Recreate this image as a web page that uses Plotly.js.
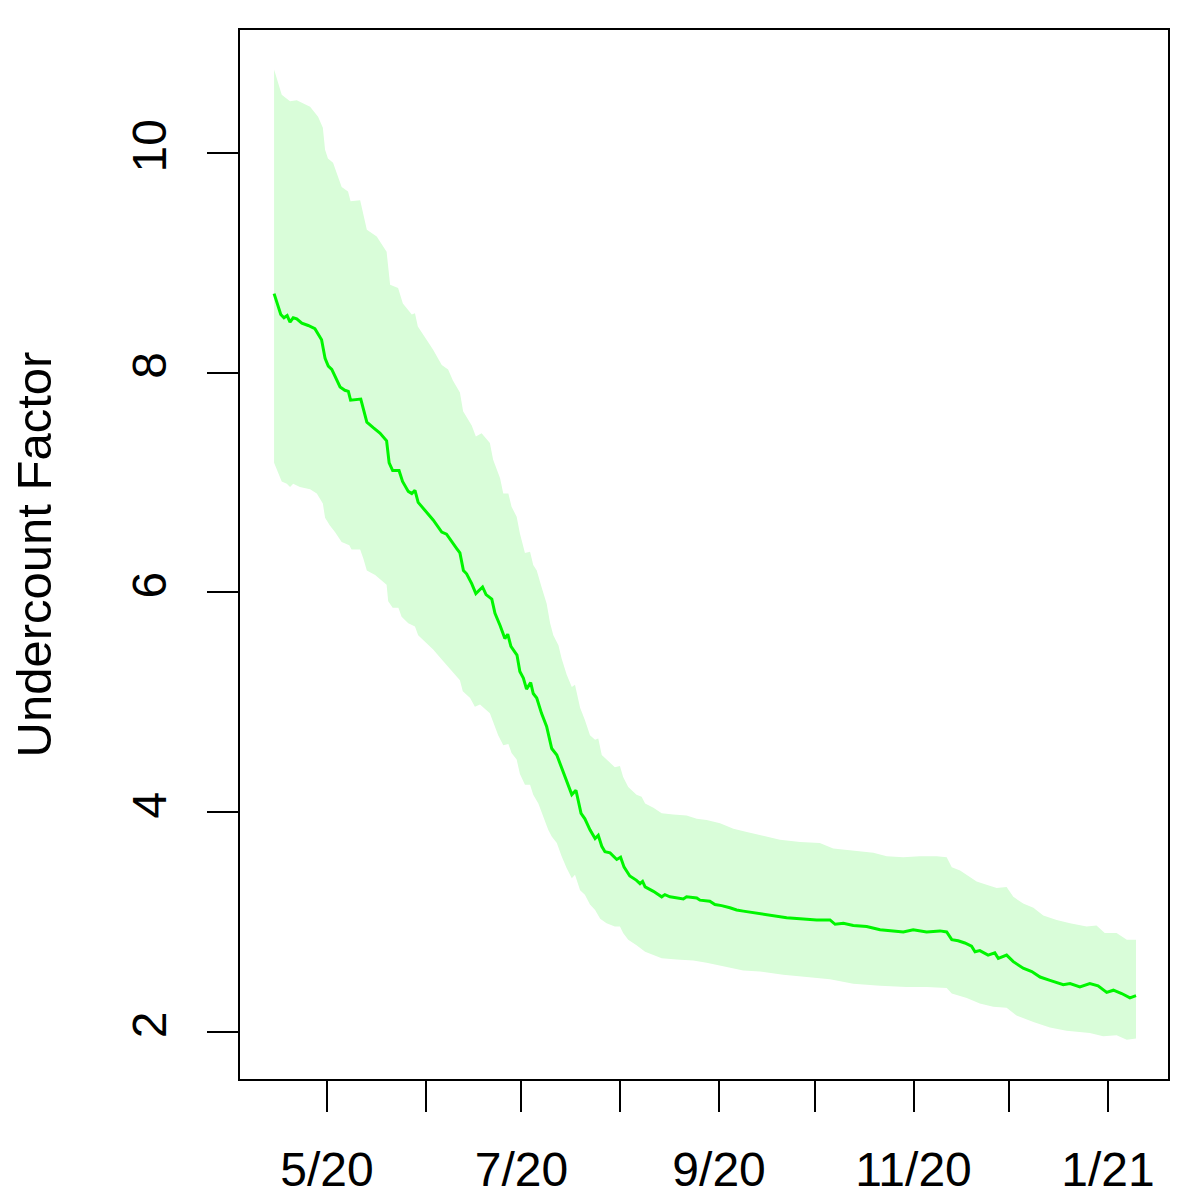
<!DOCTYPE html>
<html>
<head>
<meta charset="utf-8">
<script src="https://cdn.plot.ly/plotly-3.0.1.min.js"></script>
<style>
  html, body { margin: 0; padding: 0; background: #ffffff; }
  #chart { width: 1200px; height: 1200px; }
</style>
</head>
<body>
<div id="chart"></div>
<script>
// days since 2020-04-14
var meanDay = [0.4, 2.5, 3.5, 4.5, 5.4, 6.4, 7.5, 9.1, 11.1, 13.2, 15.3, 16.4, 17.4, 18.5, 21.1, 22.6, 23.7, 24.4,
  27.6, 28.6, 29.5, 31.5, 33.6, 35.7, 36.5, 37.6, 39.6, 40.7, 42.5, 43.6, 44.6, 45.6, 50.3, 53.0, 54.5, 57.7,
  58.7, 59.8, 60.8, 62.4, 63.7, 65.8, 66.9, 68.7, 69.7, 71.3, 72.8, 73.7, 74.7, 76.6, 77.5, 78.6, 79.6, 80.9,
  81.7, 82.8, 84.3, 85.9, 87.5, 89.1, 90.6, 92.2, 93.8, 95.1, 96.7, 97.9, 99.5, 101.1, 102.1, 103.2, 104.2,
  105.8, 107.9, 109.1, 110.2, 112.0, 114.1, 115.2, 116.0, 116.8, 119.4, 122.0, 123.0, 124.6, 128.8, 129.8,
  133.0, 134.0, 137.1, 138.7, 140.8, 143.4, 145.5, 147.6, 149.7, 152.8, 157.0, 161.2, 165.4, 170.6, 174.8,
  176.4, 179.0, 182.1, 186.3, 190.5, 194.6, 197.8, 200.9, 205.1, 209.3, 211.4, 213.0, 215.0, 217.1, 219.2,
  220.3, 221.8, 224.4, 226.5, 227.6, 230.2, 232.3, 235.4, 238.1, 240.7, 243.8, 248.0, 250.1, 253.2, 256.3,
  258.9, 261.6, 263.7, 266.3, 268.9, 270.8];
var meanVal = [8.72, 8.53, 8.50, 8.52, 8.46, 8.50, 8.49, 8.45, 8.43, 8.40, 8.30, 8.13, 8.06, 8.03, 7.87, 7.84, 7.83, 7.75,
  7.76, 7.66, 7.55, 7.50, 7.45, 7.38, 7.18, 7.11, 7.11, 7.01, 6.92, 6.90, 6.93, 6.82, 6.66, 6.55, 6.53, 6.40,
  6.36, 6.20, 6.17, 6.08, 5.99, 6.05, 5.98, 5.94, 5.81, 5.70, 5.58, 5.62, 5.51, 5.43, 5.28, 5.22, 5.12, 5.18,
  5.08, 5.04, 4.90, 4.78, 4.58, 4.52, 4.40, 4.28, 4.16, 4.20, 3.99, 3.94, 3.84, 3.76, 3.79, 3.69, 3.64,
  3.63, 3.57, 3.59, 3.50, 3.42, 3.38, 3.35, 3.37, 3.32, 3.28, 3.23, 3.25, 3.23, 3.21, 3.23,
  3.22, 3.20, 3.19, 3.16, 3.15, 3.13, 3.11, 3.10, 3.09, 3.08, 3.06, 3.04, 3.03, 3.02, 3.02,
  2.98, 2.99, 2.97, 2.96, 2.93, 2.92, 2.91, 2.93, 2.91, 2.92, 2.91, 2.84, 2.83, 2.81, 2.78,
  2.73, 2.74, 2.70, 2.72, 2.67, 2.70, 2.64, 2.58, 2.55, 2.50, 2.47, 2.43, 2.44, 2.41, 2.44,
  2.42, 2.36, 2.38, 2.35, 2.31, 2.33];

var upperDay = [0.4, 2.8, 5.4, 7.5, 11.7, 14.2, 15.7, 16.4, 17.3, 18.9, 21.6, 23.6, 24.4, 27.4, 29.5, 32.6, 35.7,
  36.8, 39.3, 40.8, 43.6, 44.6, 45.5, 50.3, 53.0, 55.0, 56.5, 58.7, 59.7, 62.4, 63.7, 65.5, 68.1, 69.1, 71.3,
  72.3, 73.9, 74.9, 76.5, 77.5, 79.1, 80.7, 81.7, 82.8, 84.3, 85.9, 87.0, 88.0, 89.6, 90.6, 92.2, 93.8, 94.8,
  96.4, 97.9, 99.5, 101.1, 102.1, 103.2, 104.7, 107.3, 108.9, 109.9, 111.5, 114.1, 115.7, 116.8, 119.4, 122.0,
  125.6, 129.8, 133.0, 136.1, 140.3, 144.5, 148.7, 152.8, 159.1, 165.4, 171.6, 175.8, 182.1, 188.4, 192.6,
  197.8, 203.0, 208.3, 211.4, 213.0, 215.6, 218.7, 220.8, 223.9, 227.1, 230.2, 232.3, 235.4, 238.6, 241.7,
  245.9, 250.1, 255.3, 258.4, 261.0, 264.7, 267.9, 270.8];
var upperVal = [10.76, 10.53, 10.47, 10.48, 10.42, 10.33, 10.23, 10.03, 9.95, 9.91, 9.69, 9.65, 9.56, 9.57, 9.30, 9.24, 9.10,
  8.80, 8.77, 8.63, 8.53, 8.54, 8.42, 8.21, 8.07, 8.03, 7.93, 7.82, 7.65, 7.52, 7.42, 7.45, 7.36, 7.21, 7.04,
  6.90, 6.90, 6.78, 6.69, 6.54, 6.36, 6.37, 6.25, 6.20, 6.05, 5.90, 5.72, 5.61, 5.52, 5.40, 5.25, 5.14, 5.16,
  4.95, 4.84, 4.70, 4.66, 4.67, 4.52, 4.48, 4.41, 4.42, 4.32, 4.23, 4.16, 4.14, 4.08, 4.04, 3.99,
  3.98, 3.97, 3.94, 3.93, 3.90, 3.85, 3.82, 3.79, 3.75, 3.73, 3.72, 3.67, 3.65, 3.63, 3.60,
  3.59, 3.60, 3.60, 3.59, 3.50, 3.47, 3.41, 3.37, 3.34, 3.31, 3.32, 3.23, 3.17, 3.13, 3.06,
  3.02, 2.99, 2.96, 2.97, 2.90, 2.90, 2.84, 2.84];

var lowerDay = [0.4, 1.2, 2.8, 4.4, 5.4, 6.4, 8.5, 11.7, 13.8, 15.7, 16.4, 17.9, 19.5, 21.6, 24.0, 24.7, 27.4, 28.4,
  29.5, 32.1, 34.7, 35.7, 36.2, 37.6, 39.4, 40.4, 42.5, 44.6, 45.6, 48.3, 50.3, 53.0, 55.1, 56.6, 58.7, 59.6,
  61.9, 63.4, 65.0, 68.1, 69.2, 70.7, 72.3, 73.9, 74.9, 76.5, 77.5, 79.1, 80.7, 81.7, 83.3, 84.8, 86.4, 87.5,
  89.1, 90.6, 92.2, 93.8, 94.8, 96.4, 97.9, 99.5, 101.1, 102.7, 104.7, 107.3, 108.9, 109.9, 111.5, 114.1,
  116.8, 119.4, 122.0, 126.7, 131.9, 136.1, 142.4, 147.6, 152.8, 160.1, 167.5, 174.8, 182.1, 190.5, 198.8,
  205.1, 211.4, 213.0, 217.7, 221.8, 226.0, 230.2, 233.3, 238.6, 243.8, 249.0, 256.3, 260.5, 264.7, 267.9, 270.8];
var lowerVal = [7.18, 7.12, 7.01, 6.99, 6.96, 6.99, 6.96, 6.94, 6.90, 6.81, 6.68, 6.61, 6.55, 6.46, 6.43, 6.39, 6.39, 6.31,
  6.20, 6.16, 6.10, 6.07, 5.92, 5.86, 5.86, 5.78, 5.72, 5.69, 5.61, 5.54, 5.48, 5.39, 5.32, 5.26, 5.20, 5.10,
  5.04, 4.96, 4.98, 4.90, 4.81, 4.70, 4.61, 4.62, 4.54, 4.48, 4.35, 4.25, 4.25, 4.16, 4.08, 3.96, 3.84, 3.78,
  3.72, 3.60, 3.49, 3.40, 3.43, 3.29, 3.25, 3.16, 3.11, 3.03, 2.99, 2.96, 2.96, 2.90, 2.84, 2.79,
  2.73, 2.70, 2.67, 2.66, 2.65, 2.63, 2.59, 2.56, 2.55, 2.52, 2.50, 2.48, 2.44, 2.42, 2.41,
  2.41, 2.40, 2.35, 2.31, 2.26, 2.23, 2.22, 2.15, 2.09, 2.04, 2.01, 1.99, 1.96, 1.97, 1.93, 1.94];

var tickDates = ['2020-05-01', '2020-06-01', '2020-07-01', '2020-08-01', '2020-09-01',
                 '2020-10-01', '2020-11-01', '2020-12-01', '2021-01-01'];
var tickLabels = ['5/20', '', '7/20', '', '9/20', '', '11/20', '', '1/21'];

var start = Date.UTC(2020, 3, 14);
function toDate(days) {
  return days.map(function (d) { return start + d * 86400000; });
}

var fillCol = 'rgb(217,253,217)';
var lineCol = '#00f500';

var upper = {
  x: toDate(upperDay), y: upperVal,
  type: 'scatter', mode: 'lines',
  line: {width: 0, color: fillCol},
  hoverinfo: 'skip', showlegend: false
};
var lower = {
  x: toDate(lowerDay), y: lowerVal,
  type: 'scatter', mode: 'lines',
  fill: 'tonexty', fillcolor: fillCol,
  line: {width: 0, color: fillCol},
  hoverinfo: 'skip', showlegend: false
};
var mean = {
  x: toDate(meanDay), y: meanVal,
  type: 'scatter', mode: 'lines',
  line: {width: 3, color: lineCol},
  showlegend: false
};

var font = 'Liberation Sans, Arial, Helvetica, sans-serif';

var layout = {
  width: 1200, height: 1200,
  margin: {l: 240, r: 32, t: 30, b: 121},
  paper_bgcolor: '#ffffff',
  plot_bgcolor: '#ffffff',
  showlegend: false,
  font: {family: font, size: 48, color: '#000000'},
  xaxis: {
    type: 'date',
    range: ['2020-04-03 17:00', '2021-01-19 20:00'],
    tickmode: 'array', tickvals: tickDates, ticktext: tickLabels,
    ticks: 'outside', ticklen: 31, tickwidth: 2, tickcolor: '#000000',
    showline: true, linewidth: 2, linecolor: '#000000', mirror: true,
    showgrid: false, zeroline: false,
    ticklabelstandoff: 16,
    tickfont: {family: font, size: 48, color: '#000000'}
  },
  yaxis: {
    range: [1.572, 11.119],
    tickmode: 'array', tickvals: [2, 4, 6, 8, 10],
    ticks: 'outside', ticklen: 31, tickwidth: 2, tickcolor: '#000000',
    tickangle: -90,
    showline: true, linewidth: 2, linecolor: '#000000', mirror: true,
    showgrid: false, zeroline: false,
    ticklabelstandoff: 22,
    tickfont: {family: font, size: 48, color: '#000000'},
    title: {text: 'Undercount Factor', font: {family: font, size: 49, color: '#000000'}, standoff: 56}
  }
};

Plotly.newPlot('chart', [upper, lower, mean], layout, {displayModeBar: false, staticPlot: true});
</script>
</body>
</html>
